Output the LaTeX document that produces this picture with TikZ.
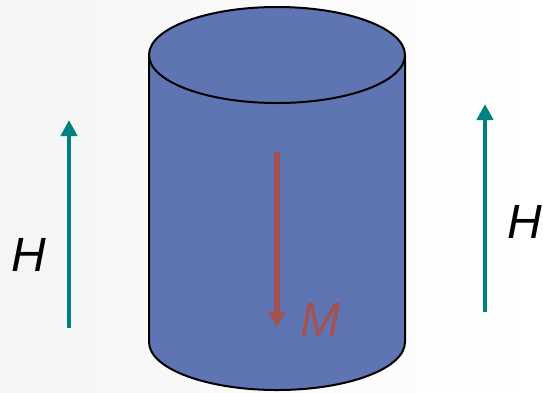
\documentclass[tikz,border=0pt]{standalone}
\usepackage{fontspec}
\setmainfont{Liberation Sans}
\usetikzlibrary{arrows.meta,positioning}
\definecolor{cylblue}{RGB}{95,116,178}
\definecolor{fieldcol}{RGB}{0,128,128}
\definecolor{magcol}{RGB}{164,82,80}
\tikzset{
  cylfill/.style={fill=cylblue},
  cylline/.style={draw=black,line width=2pt},
  field/.style={-{Triangle[length=16pt,width=16pt]},draw=fieldcol,line width=4.5pt},
  magn/.style={-{Triangle[length=15pt,width=16pt]},draw=magcol,line width=6pt},
  sym/.style={inner sep=0pt,font=\fontsize{48}{52}\selectfont\itshape},
}
\begin{document}
\begin{tikzpicture}[x=1pt,y=1pt]
  % background, faint grey towards the left
  \shade[left color=black!4,right color=white] (0,0) rectangle (543,-392);
  \useasboundingbox (0,0) rectangle (543,-392);
  % cylinder
  \fill[cylfill] (149,-55) -- (149,-342)
    arc[start angle=180,end angle=360,x radius=128,y radius=48] -- (405,-55) -- cycle;
  \draw[cylline] (149,-55) -- (149,-342)
    arc[start angle=180,end angle=360,x radius=128,y radius=48] -- (405,-55);
  \filldraw[cylfill,cylline] (277,-55) ellipse[x radius=128,y radius=48];
  % applied field
  \coordinate (hl0) at (69,-328);
  \coordinate (hl1) at (69,-120);
  \coordinate (hr0) at (485,-312);
  \coordinate (hr1) at (485,-104);
  \draw[field] (hl0) -- (hl1);
  \draw[field] (hr0) -- (hr1);
  \node[sym] (hleft) at (29,-255) {H};
  \node[sym] (hright) at (525,-222) {H};
  % magnetisation
  \coordinate (m0) at (277,-152);
  \coordinate (m1) at (277,-327);
  \draw[magn] (m0) -- (m1);
  \node[sym,text=magcol] (mlab) at (320,-320) {M};
\end{tikzpicture}
\end{document}
